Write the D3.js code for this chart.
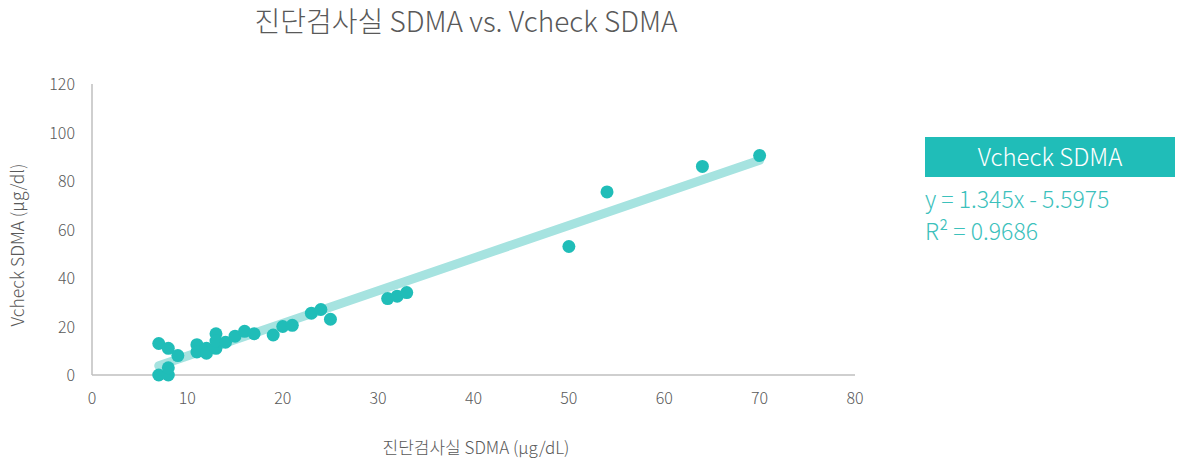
<!DOCTYPE html>
<html>
<head>
<meta charset="utf-8">
<script src="https://cdn.jsdelivr.net/npm/d3@7"></script>
<style>
  body { margin: 0; background: #fff; }
  svg { display: block; font-family: "Noto Sans CJK KR", "Noto Sans", sans-serif; font-weight: 300; }
</style>
</head>
<body>
<div id="chart"></div>
<script>
'use strict';

// lab SDMA (x) vs Vcheck SDMA (y)
var labValues = [7, 8, 8, 7, 8, 9, 11, 11, 12, 12, 13, 13, 13, 14, 15, 16, 17, 19, 20, 21, 23, 24, 25, 31, 32, 33, 50, 54, 64, 70];
var vcheckValues = [0, 0, 3, 13, 11, 8, 12.5, 9.5, 11, 9, 11, 17, 14, 13.5, 16, 18, 17, 16.5, 20, 20.5, 25.5, 27, 23, 31.5, 32.5, 34, 53, 75.5, 86, 90.5];
var xTicks = [0, 10, 20, 30, 40, 50, 60, 70, 80];
var yTicks = [0, 20, 40, 60, 80, 100, 120];
var slope = 1.345, intercept = -5.5975;
var trendRange = [7, 70];

var width = 1178, height = 459;
var margin = {left: 92, top: 84, right: 323, bottom: 84};
var teal = '#20bdb8';

var svg = d3.select('#chart').append('svg')
    .attr('width', width)
    .attr('height', height);

var x = d3.scaleLinear().domain([0, 80]).range([margin.left, width - margin.right]);
var y = d3.scaleLinear().domain([0, 120]).range([height - margin.bottom, margin.top]);

// title
svg.append('text')
  .attr('x', 466).attr('y', 32)
  .attr('text-anchor', 'middle')
  .attr('font-size', 28)
  .attr('fill', '#595959')
  .text('진단검사실 SDMA vs. Vcheck SDMA');

// axes lines
svg.append('line')
  .attr('x1', x(0)).attr('x2', x(80))
  .attr('y1', y(0)).attr('y2', y(0))
  .attr('stroke', '#bfbfbf').attr('stroke-width', 1.5);
svg.append('line')
  .attr('x1', x(0)).attr('x2', x(0))
  .attr('y1', y(0)).attr('y2', y(120))
  .attr('stroke', '#bfbfbf').attr('stroke-width', 1.5);

// tick labels
svg.selectAll('.xtick')
  .data(xTicks)
  .enter()
    .append('text')
    .attr('class', 'xtick')
    .attr('x', function(d){ return x(d); })
    .attr('y', y(0) + 29)
    .attr('text-anchor', 'middle')
    .attr('font-size', 16)
    .attr('fill', '#595959')
    .text(function(d){ return d; });

svg.selectAll('.ytick')
  .data(yTicks)
  .enter()
    .append('text')
    .attr('class', 'ytick')
    .attr('x', x(0) - 17)
    .attr('y', function(d){ return y(d) + 6; })
    .attr('text-anchor', 'end')
    .attr('font-size', 16)
    .attr('fill', '#595959')
    .text(function(d){ return d; });

// axis titles
svg.append('text')
  .attr('x', 476).attr('y', 454)
  .attr('text-anchor', 'middle')
  .attr('font-size', 17)
  .attr('fill', '#595959')
  .text('진단검사실 SDMA (μg/dL)');

svg.append('text')
  .attr('transform', 'translate(24,245) rotate(-90)')
  .attr('text-anchor', 'middle')
  .attr('font-size', 17.5)
  .attr('fill', '#595959')
  .text('Vcheck SDMA (μg/dl)');

// trendline
svg.append('line')
  .attr('x1', x(trendRange[0])).attr('y1', y(slope * trendRange[0] + intercept))
  .attr('x2', x(trendRange[1])).attr('y2', y(slope * trendRange[1] + intercept))
  .attr('stroke', '#a6e3e0')
  .attr('stroke-width', 9)
  .attr('stroke-linecap', 'round');

// points
svg.selectAll('circle')
  .data(d3.zip(labValues, vcheckValues))
  .enter()
    .append('circle')
    .attr('cx', function(d){ return x(d[0]); })
    .attr('cy', function(d){ return y(d[1]); })
    .attr('r', 6.5)
    .attr('fill', teal);

// legend box
svg.append('rect')
  .attr('x', 925).attr('y', 137)
  .attr('width', 250).attr('height', 40)
  .attr('fill', teal);
svg.append('text')
  .attr('x', 1050).attr('y', 166)
  .attr('text-anchor', 'middle')
  .attr('font-size', 24)
  .attr('fill', '#fff')
  .text('Vcheck SDMA');

svg.append('text')
  .attr('x', 925).attr('y', 208)
  .attr('font-size', 23)
  .attr('fill', '#3cc1bc')
  .text('y = ' + slope + 'x - ' + Math.abs(intercept));
svg.append('text')
  .attr('x', 925).attr('y', 240)
  .attr('font-size', 23)
  .attr('fill', '#3cc1bc')
  .text('R² = 0.9686');
</script>
</body>
</html>
